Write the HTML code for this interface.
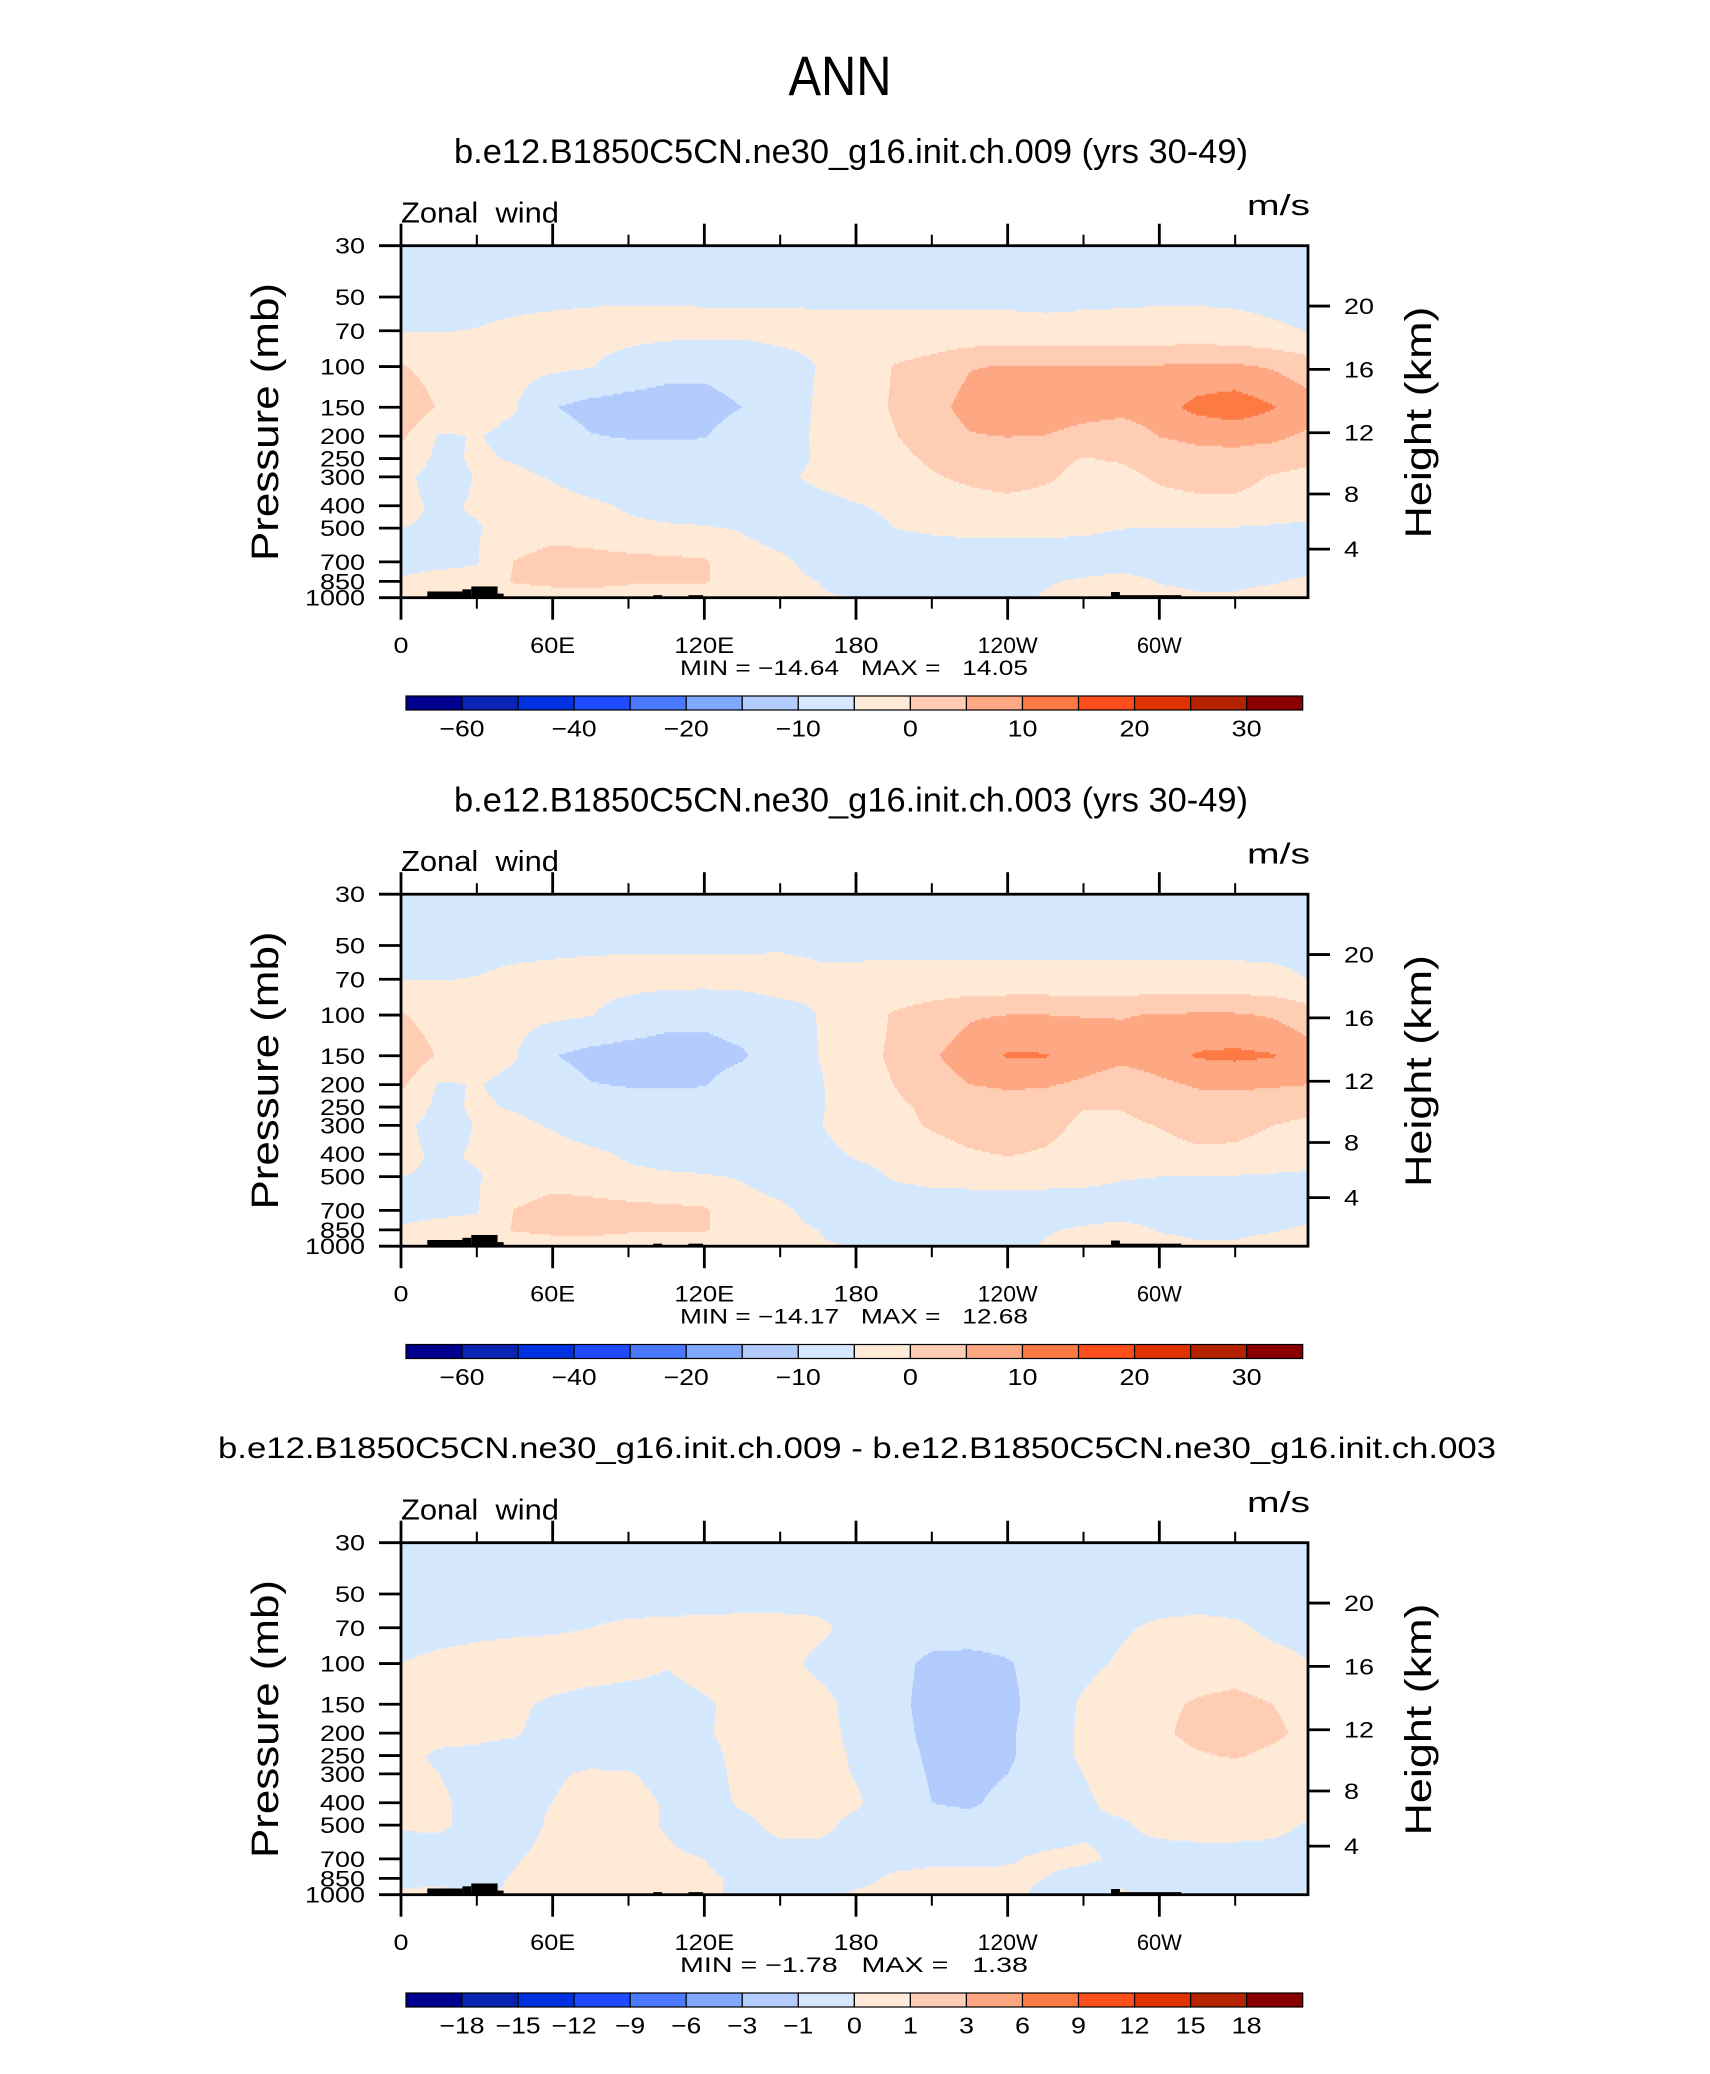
<!DOCTYPE html>
<html><head><meta charset="utf-8"><title>ANN Zonal wind</title>
<style>
html,body{margin:0;padding:0;background:#fff;}
svg{display:block;font-family:"Liberation Sans",Arial,sans-serif;}
.pre{white-space:pre;}
</style></head>
<body>
<svg id="fig" width="1710" height="2074" viewBox="0 0 1710 2074" xmlns="http://www.w3.org/2000/svg">
<rect x="0" y="0" width="1710" height="2074" fill="#fff"/>
<text x="840" y="95" font-size="56" text-anchor="middle" textLength="103" lengthAdjust="spacingAndGlyphs" fill="#000">ANN</text>
<text x="851" y="163" font-size="34" text-anchor="middle" textLength="794" lengthAdjust="spacingAndGlyphs" fill="#000">b.e12.B1850C5CN.ne30_g16.init.ch.009 (yrs 30-49)</text>
<text x="851" y="811.5" font-size="34" text-anchor="middle" textLength="794" lengthAdjust="spacingAndGlyphs" fill="#000">b.e12.B1850C5CN.ne30_g16.init.ch.003 (yrs 30-49)</text>
<text x="857" y="1458" font-size="30" text-anchor="middle" textLength="1278" lengthAdjust="spacingAndGlyphs" fill="#000">b.e12.B1850C5CN.ne30_g16.init.ch.009 - b.e12.B1850C5CN.ne30_g16.init.ch.003</text>
</svg>
<script>
// ---- chart data ----
const lons = [0,15,30,45,60,75,90,105,120,135,150,165,180,195,210,225,240,255,270,285,300,315,330,345,360];
const levels = [30,50,70,100,150,200,250,300,400,500,700,850,1000];
const pTicks = [30,50,70,100,150,200,250,300,400,500,700,850,1000];
const lonTicks = [0,60,120,180,240,300];
const lonTickLabels = ['0','60E','120E','180','120W','60W'];
const heightTicks = [4,8,12,16,20];
const absLevels = [-60,-50,-40,-30,-20,-15,-10,-5,0,5,10,15,20,25,30];
const absLabels = ['-60','','-40','','-20','','-10','','0','','10','','20','','30'];
const diffLevels = [-18,-15,-12,-9,-6,-3,-1,0,1,3,6,9,12,15,18];
const diffLabels = ['-18','-15','-12','-9','-6','-3','-1','0','1','3','6','9','12','15','18'];
const fillColors = ['#00008f','#0a24b4','#0032e1','#1e4bff','#4a78ff','#80a9fe','#b3cbfd','#d5e8fd','#ffead8','#fecdb3','#fda882','#fe7a45','#fe4e1c','#e03300','#b52200','#8a0000'];
const stats009 = ['-14.64','14.05'];
const stats003 = ['-14.17','12.68'];
const statsDiff = ['-1.78','1.38'];
// topography blocks: [lonStart, lonEnd, surfacePressure]
const topo = [[10.4,24.3,940],[24.3,27.8,920],[27.8,38.2,894],[38.2,40.6,960],[99.8,103.3,975],[113.7,119.5,975],[280.9,284.4,945],[284.4,308.7,975]];

const u009 = [
[-8,-8,-8,-8,-8,-8,-8,-8,-8,-8,-8,-8,-8,-8,-8,-8,-8,-8,-8,-8,-8,-8,-8,-8,-8],
[-6,-6,-6,-5.8,-5.7,-5.6,-5.5,-5.5,-5.5,-5.5,-5.5,-5.6,-5.7,-5.7,-5.7,-5.7,-5.7,-5.8,-5.7,-5.6,-5.5,-5.5,-5.6,-5.8,-6],
[-5.1,-5.1,-4.9,-4.4,-4,-3.6,-3.4,-3.6,-3.8,-4,-3.8,-4,-3.9,-3.8,-3.9,-3.9,-3.9,-4.1,-3.9,-3.8,-3.6,-3.6,-3.9,-4.6,-5.1],
[0.5,-2.5,-3,-3.5,-4,-4.8,-6.8,-8.5,-9,-8,-6.5,-4.9,-3,0.2,2,4.8,5.2,5.3,5.1,5.1,5.4,6,5.8,4.5,2],
[4.5,-0.5,-3.5,-4.7,-9.8,-11.5,-12,-12,-11.5,-10,-7.5,-4.5,-2.5,0.5,3.5,6.5,8,9.5,8,7,8,11.5,13,10.3,7],
[1,-5.5,-4.8,-6,-7.5,-9.8,-10.3,-10.5,-10.2,-8,-6.5,-4.5,-2.5,-0.3,2.5,4.7,5.1,4.8,2.5,1.5,5.1,6,6.5,6,4],
[-2,-6,-4.5,-5.3,-6.5,-7.5,-8,-8,-8,-8,-7,-4.5,-3,-1.5,0.8,2.5,2.5,1.5,-0.2,0.5,2.5,3.5,3.5,2.5,1],
[-4,-6.5,-4.8,-4.2,-5.3,-7,-8,-8,-8,-8,-6,-4,-2.5,-2,-0.5,1,2,0.8,-1.5,-1.5,0.8,2,2,-0.5,-1.5],
[-4.2,-5.5,-4.7,-3.5,-3.5,-4.2,-5.5,-6.5,-7,-7.5,-7.5,-6.5,-5.3,-4,-3,-2,-1.5,-2,-2.5,-2.5,-2,-1.5,-1.5,-2.5,-3.5],
[-5,-5.3,-5.2,-4,-2.5,-3,-4.2,-4.5,-4.7,-5.3,-6.5,-7,-7,-5,-4.5,-4.2,-4.2,-4.2,-4.4,-4.95,-5.1,-5.1,-5.2,-5.5,-5.8],
[-6,-5.8,-5.3,0.2,2.5,2,1.5,1,0.6,-3.5,-4.4,-6,-7,-7,-7,-7,-7,-7,-7,-7,-7,-7,-7,-6.5,-6],
[-4.7,-3.8,-3.5,0.5,1.5,1.5,1,0.8,0.5,-3,-4.2,-5,-6.5,-6.5,-6.5,-6.5,-6.5,-5.3,-4.5,-3.5,-5.2,-5.5,-5.5,-5.2,-4.5],
[-2,0.5,0.5,-4,-3,-2,-4,-4,-4,-4,-4.5,-4.7,-5,-6,-6,-6,-6,-4.7,-4,0.5,-4,-4.7,-4.7,-4,-4]
];
const u003 = [
[-8,-8,-8,-8,-8,-8,-8,-8,-8,-8,-8,-8,-8,-8,-8,-8,-8,-8,-8,-8,-8,-8,-8,-8,-8],
[-6,-6,-6,-5.8,-5.7,-5.6,-5.5,-5.5,-5.5,-5.5,-5.5,-5.7,-5.8,-5.8,-5.8,-5.8,-5.8,-5.8,-5.8,-5.8,-5.8,-5.8,-5.8,-5.9,-6],
[-5.1,-5.1,-4.9,-4.3,-4,-3.7,-3.5,-3.5,-3.5,-3.5,-3.2,-4.2,-4.1,-4,-4,-4,-4,-4,-4,-4,-4,-4,-4,-4.2,-5.1],
[0.5,-2.5,-3,-3.5,-4,-4.8,-6.8,-8.5,-9,-8,-6.5,-4.9,-3,0.5,2.5,4.5,5,5,4.8,4.8,5.2,5.6,5.5,4.5,2],
[4,-0.5,-3.5,-4.7,-9.8,-11.5,-12,-12,-11.5,-10.5,-7.5,-5,-2.5,1,4.5,7,10.5,10.3,8,6.5,7.5,10.5,11,10.3,7],
[1,-5.5,-4.8,-6,-7.5,-9.8,-10.3,-10.5,-10.2,-8,-6.5,-5.5,-2.5,0,3,5,5.5,5.5,4,2,4,5.5,5.8,5.5,5],
[-2,-6,-4.5,-5.3,-6.5,-7.5,-8,-8,-8,-8,-7,-5.5,-3,-1,1,3,3.5,2.5,0.2,0.2,2,3,3,2,1],
[-4,-6.5,-4.8,-4.2,-5.3,-7,-8,-8,-8,-8,-6.5,-5.3,-2.5,-1.5,0.5,2,2,1.5,-1,-1,0.2,2,1.5,0,-1],
[-4.2,-5.5,-4.7,-3.5,-3.5,-4.2,-5.5,-6.5,-7,-7.5,-7.5,-6.5,-4.5,-3.5,-2,-0.5,0.3,-0.5,-2,-2.2,-2,-1,-1,-2,-3],
[-5,-5.3,-5.2,-4,-2.5,-3,-4.2,-4.5,-4.7,-5.3,-6.5,-7,-6.5,-4.7,-4,-3.8,-3.8,-3.8,-4,-4.7,-5,-5,-5.2,-5.5,-5.8],
[-6,-5.8,-5.3,0.2,2.5,2,1.5,1,0.6,-3.5,-4.4,-6,-7,-7,-7,-7,-7,-7,-7,-7,-7,-7,-7,-6.5,-6],
[-4.7,-3.8,-3.5,0.5,1.5,1.5,1,0.8,0.5,-3,-4.2,-5,-6.5,-6.5,-6.5,-6.5,-6.5,-5.3,-4.5,-3.5,-5.2,-5.5,-5.5,-5.2,-4.5],
[-2,0.5,0.5,-4,-3,-2,-4,-4,-4,-4,-4.5,-4.7,-5,-6,-6,-6,-6,-4.7,-4,0.5,-4,-4.7,-4.7,-4,-4]
];
const uDiff = [
[-0.5,-0.5,-0.5,-0.5,-0.5,-0.5,-0.5,-0.5,-0.5,-0.5,-0.5,-0.5,-0.5,-0.5,-0.5,-0.5,-0.5,-0.5,-0.5,-0.5,-0.5,-0.5,-0.5,-0.5,-0.5],
[-0.4,-0.4,-0.4,-0.4,-0.4,-0.4,-0.4,-0.4,-0.4,-0.4,-0.4,-0.4,-0.4,-0.4,-0.4,-0.4,-0.4,-0.4,-0.4,-0.4,-0.4,-0.4,-0.4,-0.4,-0.4],
[-0.4,-0.3,-0.2,-0.15,-0.1,0,0.15,0.2,0.25,0.3,0.3,0.2,-0.3,-0.4,-0.4,-0.4,-0.4,-0.4,-0.3,-0.1,0.15,0.25,0.15,-0.2,-0.3],
[0,0.2,0.3,0.4,0.4,0.4,0.3,0.05,0.3,0.4,0.3,-0.2,-0.4,-0.6,-1.3,-1.4,-1.1,-0.5,-0.2,0.1,0.4,0.5,0.5,0.3,0],
[0.3,0.3,0.3,0.1,-0.1,-0.3,-0.4,-0.3,-0.1,0.2,0.4,0.3,-0.3,-0.6,-1.5,-1.6,-1.3,-0.4,0.1,0.5,0.8,1.1,1.3,1.0,0.6],
[0.3,0.2,0.1,0.05,-0.2,-0.3,-0.3,-0.3,-0.1,0.3,0.4,0.3,-0.2,-0.5,-1.4,-1.6,-1.2,-0.3,0.1,0.5,0.8,1.3,1.4,1.2,0.7],
[0.2,-0.1,-0.1,-0.2,-0.3,-0.3,-0.3,-0.3,-0.3,0.3,0.4,0.3,-0.1,-0.5,-1.2,-1.5,-1.2,-0.3,0.1,0.4,0.6,0.9,1.1,0.8,0.5],
[0.2,0,-0.2,-0.2,-0.1,0.1,0.05,-0.2,-0.3,0.2,0.4,0.3,-0.05,-0.5,-1.1,-1.4,-1.0,-0.3,0,0.3,0.5,0.5,0.5,0.5,0.4],
[0.2,0.1,-0.2,-0.2,0,0.3,0.2,-0.05,-0.3,0.1,0.3,0.3,0.1,-0.4,-1.0,-1.2,-0.6,-0.3,-0.1,0.2,0.4,0.4,0.4,0.4,0.3],
[0.05,0.1,-0.2,-0.3,0.1,0.3,0.2,-0.05,-0.3,-0.2,0.2,0.2,-0.2,-0.3,-0.5,-0.5,-0.4,-0.3,-0.1,-0.1,0.2,0.3,0.3,0.2,-0.1],
[-0.3,-0.3,-0.3,-0.05,0.2,0.3,0.3,0.1,0,-0.3,-0.3,-0.3,-0.2,-0.2,-0.1,-0.1,-0.05,0.1,0.1,-0.1,-0.3,-0.3,-0.3,-0.3,-0.3],
[-0.2,-0.2,-0.2,0.05,0.2,0.2,0.2,0.2,0.1,-0.1,-0.3,-0.3,-0.2,0.1,0.15,0.15,0.1,0,-0.2,-0.2,-0.3,-0.3,-0.3,-0.3,-0.3],
[0.1,0.2,-0.1,0.1,0.2,0.2,0.1,0.1,0.1,-0.1,-0.2,-0.2,0.1,0.2,0.2,0.2,0.1,-0.1,-0.2,0.1,-0.2,-0.3,-0.3,-0.3,-0.3]
];

// ---- layout ----
const NS = 'http://www.w3.org/2000/svg';
const svg = document.getElementById('fig');
const X0 = 401, X1 = 1308, PH = 352;
const panelTops = [245.7, 894.2, 1542.7];
const LN = Math.log(1000/30);
function xScale(lon){ return X0 + lon*910/360; }
function yScale(p, top){ return top + Math.log(p/30)/LN*PH; }
function isaP(zkm){ const z=zkm*1000; return z<=11000 ? 1013.25*Math.pow(1-2.25577e-5*z,5.25588) : 226.32*Math.exp(-(z-11000)/6341.6); }
function mk(tag, attrs, parent){ const e=document.createElementNS(NS,tag); for(const k in attrs) e.setAttribute(k,attrs[k]); (parent||svg).appendChild(e); return e; }
function colorIdx(v, lv){ let i=0; while(i<lv.length && v>=lv[i]) i++; return i; }

function sample(data, lon, lp){
  const lnL = levels.map(Math.log);
  let k=0; while(k<levels.length-2 && lp>lnL[k+1]) k++;
  let t=(lp-lnL[k])/(lnL[k+1]-lnL[k]); t=Math.max(0,Math.min(1,t));
  const step = lons[1]-lons[0];
  let j=Math.floor(lon/step); if(j>=lons.length-1) j=lons.length-2;
  let s=(lon-lons[j])/step; s=Math.max(0,Math.min(1,s));
  const a=data[k][j]*(1-s)+data[k][j+1]*s;
  const b=data[k+1][j]*(1-s)+data[k+1][j+1]*s;
  return a*(1-t)+b*t;
}

function drawPanel(pi, data, lv, labels, stats){
  const top = panelTops[pi];
  const off = top - panelTops[0];
  const g = mk('g',{});
  
  
  const fg = mk('g',{}, g);
  
  
  const step=2;
  for(let yy=0; yy<PH; yy+=step){
    const lp = Math.log(30) + (yy+step/2)/PH*LN;
    let runStart=X0, runC=-1;
    for(let xx=X0; xx<=X1; xx++){
      let c=-2;
      if(xx<X1){ const lon=(xx+0.5-X0)*360/910; c=colorIdx(sample(data,lon,lp), lv); }
      if(c!==runC){
        if(runC>=0){
          const r=mk('rect',{x:runStart,y:(top+yy).toFixed(2),width:xx-runStart,height:step+0.6,fill:fillColors[runC]},fg);
          
          
        }
        runStart=xx; runC=c;
      }
    }
  }
  topo.forEach(function(t){
    const yt=yScale(t[2],top);
    const r=mk('rect',{x:xScale(t[0]),y:yt,width:xScale(t[1])-xScale(t[0]),height:top+PH-yt,fill:'#000'},g);
    
    
  });
  const fr=mk('rect',{x:X0,y:top,width:X1-X0,height:PH,fill:'none',stroke:'#000','stroke-width':2.8},g);
  
  
  for(let lon=0; lon<360; lon+=30){
    const x=xScale(lon), major=(lon%60===0), L=major?22:11;
    const t1=mk('line',{x1:x,x2:x,y1:top,y2:top-L,stroke:'#000','stroke-width':major?2.8:2},g);
    
    
    const t2=mk('line',{x1:x,x2:x,y1:top+PH,y2:top+PH+L,stroke:'#000','stroke-width':major?2.8:2},g);
    
    
  }
  lonTicks.forEach(function(lon,i){
    const s=lonTickLabels[i];
    const t=mk('text',{x:xScale(lon),y:top+PH+55.5,'font-size':22,'text-anchor':'middle',textLength:15*s.length,lengthAdjust:'spacingAndGlyphs'},g);
    t.textContent=s;
    
    
  });
  pTicks.forEach(function(p){
    const y=yScale(p,top);
    const l=mk('line',{x1:X0-22,x2:X0,y1:y,y2:y,stroke:'#000','stroke-width':2.8},g);
    
    
    const s=String(p);
    const t=mk('text',{x:365,y:y+8,'font-size':22,'text-anchor':'end',textLength:15*s.length,lengthAdjust:'spacingAndGlyphs'},g);
    t.textContent=s;
    
    
  });
  heightTicks.forEach(function(z){
    const y=yScale(isaP(z),top);
    const l=mk('line',{x1:X1,x2:X1+22,y1:y,y2:y,stroke:'#000','stroke-width':2.8},g);
    
    
    const s=String(z);
    const t=mk('text',{x:1344,y:y+8,'font-size':22,textLength:15*s.length,lengthAdjust:'spacingAndGlyphs'},g);
    t.textContent=s;
    
    
  });
  const yt=mk('text',{x:0,y:0,'font-size':38,'text-anchor':'middle',textLength:278,lengthAdjust:'spacingAndGlyphs',transform:'translate(278,'+(422+off)+') rotate(-90)'},g);
  yt.textContent='Pressure  (mb)';
  
  
  const ht=mk('text',{x:0,y:0,'font-size':37,'text-anchor':'middle',textLength:232,lengthAdjust:'spacingAndGlyphs',transform:'translate(1431,'+(422.5+off)+') rotate(-90)'},g);
  ht.textContent='Height  (km)';
  
  
  const zw=mk('text',{x:401,y:222.5+off,'font-size':29,textLength:158,lengthAdjust:'spacingAndGlyphs',class:'pre'},g);
  zw.textContent='Zonal  wind';
  
  
  const un=mk('text',{x:1310,y:215+off,'font-size':29,'text-anchor':'end',textLength:63,lengthAdjust:'spacingAndGlyphs'},g);
  un.textContent='m/s';
  
  
  const mm=mk('text',{x:854,y:675+off,'font-size':21,'text-anchor':'middle',textLength:348,lengthAdjust:'spacingAndGlyphs',class:'pre'},g);
  mm.textContent='MIN = \u2212'+stats[0].replace('-','')+'   MAX =   '+stats[1];
  
  
  const cb=mk('g',{},g);
  
  
  const cx0=406, cw=(1302.7-406)/fillColors.length, cy=696+off, ch=14;
  fillColors.forEach(function(c,i){
    const r=mk('rect',{x:cx0+i*cw,y:cy,width:cw,height:ch,fill:c,stroke:'#000','stroke-width':1.2},cb);
    
    
  });
  lv.forEach(function(v,i){
    const s=labels[i]; if(!s) return;
    const txt=s.replace('-','\u2212');
    const t=mk('text',{x:cx0+(i+1)*cw,y:736.7+off,'font-size':23,'text-anchor':'middle',textLength:15*txt.length,lengthAdjust:'spacingAndGlyphs'},cb);
    t.textContent=txt;
    
    
  });
}
drawPanel(0, u009, absLevels, absLabels, stats009);
drawPanel(1, u003, absLevels, absLabels, stats003);
drawPanel(2, uDiff, diffLevels, diffLabels, statsDiff);
</script>
</body></html>
